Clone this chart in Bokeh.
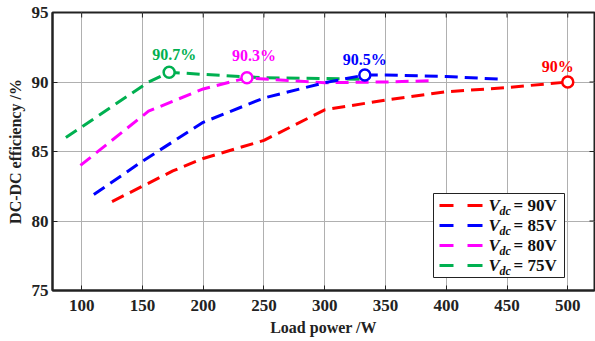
from bokeh.plotting import figure
from bokeh.models import Range1d, FixedTicker
from bokeh.core.properties import value
from bokeh.embed import file_html
from bokeh.resources import INLINE

# ---------------- data ----------------
load_90 = [125, 150, 175, 200, 250, 300, 350, 400, 450, 500]
eff_90 = [81.4, 82.5, 83.6, 84.5, 85.8, 88.0, 88.7, 89.3, 89.6, 90.0]
load_85 = [110, 150, 200, 250, 300, 333, 350, 400, 445]
eff_85 = [81.9, 84.3, 87.1, 88.85, 89.95, 90.5, 90.5, 90.4, 90.2]
load_80 = [99, 155, 200, 236, 300, 350, 390]
eff_80 = [84.0, 87.9, 89.5, 90.3, 89.95, 90.0, 90.1]
load_75 = [87, 155, 172, 200, 250, 300, 332]
eff_75 = [86.0, 90.0, 90.7, 90.55, 90.3, 90.25, 90.2]

peak_load = [500, 333, 236, 172]
peak_eff = [90.0, 90.5, 90.3, 90.7]
peak_labels = ["90%", "90.5%", "90.3%", "90.7%"]
vdc_labels = ["90V", "85V", "80V", "75V"]
colors = ["#FF0000", "#0000FF", "#FF00FF", "#00B050"]

x_ticks = [100, 150, 200, 250, 300, 350, 400, 450, 500]
y_ticks = [75, 80, 85, 90, 95]

# ---------------- layout ----------------
W, H = 595, 341
FL, FR, FT, FB = 52, 594, 12, 290
X_LO, X_HI = 76, 522
Y_LO, Y_HI = 75, 95
SX = (FR - FL) / (X_HI - X_LO)
SY = (FB - FT) / (Y_HI - Y_LO)


def xd(px):
    return X_LO + (px - FL) / SX


def yd(py):
    return Y_HI - (py - FT) / SY


FONT = "Liberation Serif"
DARK = "#222222"

p = figure(width=W, height=H, output_backend="svg", toolbar_location=None,
           x_range=Range1d(X_LO, X_HI), y_range=Range1d(Y_LO, Y_HI),
           min_border_left=FL, min_border_right=W - FR, min_border_top=FT,
           min_border_bottom=H - FB)
p.outline_line_color = DARK
p.outline_line_width = 2
p.background_fill_color = "white"
p.border_fill_color = "white"

for ax in (p.xaxis[0], p.yaxis[0]):
    ax.major_label_text_font = FONT
    ax.major_label_text_font_style = "bold"
    ax.major_label_text_font_size = "17px"
    ax.major_label_text_color = DARK
    ax.axis_label_text_font = FONT
    ax.axis_label_text_font_style = "bold"
    ax.axis_label_text_font_size = "16px"
    ax.axis_label_text_color = DARK
    ax.major_tick_in = 5
    ax.major_tick_out = 0
    ax.minor_tick_in = 0
    ax.minor_tick_out = 0
    ax.axis_line_width = 2
    ax.axis_line_color = DARK
    ax.major_tick_line_color = DARK

p.xaxis[0].ticker = FixedTicker(ticks=x_ticks)
p.yaxis[0].ticker = FixedTicker(ticks=y_ticks)
p.xaxis[0].axis_label = "Load power /W"
p.yaxis[0].axis_label = "DC-DC efficiency /%"
p.xaxis[0].major_label_standoff = 9
p.xaxis[0].axis_label_standoff = 5
p.yaxis[0].major_label_standoff = 4
p.yaxis[0].axis_label_standoff = 5

p.xgrid.ticker = FixedTicker(ticks=x_ticks)
p.ygrid.ticker = FixedTicker(ticks=y_ticks)
p.grid.grid_line_color = "#b0b0b0"
p.grid.grid_line_width = 1

# tick marks on top and right borders
n = len(x_ticks)
p.segment(x_ticks, [Y_HI] * n, x_ticks, [yd(FT + 5)] * n, line_color=DARK, line_width=1)
m = len(y_ticks)
p.segment([X_HI] * m, y_ticks, [xd(FR - 5)] * m, y_ticks, line_color=DARK, line_width=1)

# ---------------- curves ----------------
series = [(load_75, eff_75, colors[3]), (load_80, eff_80, colors[2]),
          (load_85, eff_85, colors[1]), (load_90, eff_90, colors[0])]
for xs, ys, c in series:
    p.line(xs, ys, line_color=c, line_width=3, line_dash="13 7")

p.scatter(peak_load, peak_eff, marker="circle", size=11, line_color=colors,
          line_width=2.5, fill_color="white")

label_dx = [-10, 0, 7, 5]
label_dy = [-16, -16, -22, -18]
for i in range(4):
    p.text([peak_load[i]], [peak_eff[i]], text=[peak_labels[i]], text_color=colors[i],
           text_font=value(FONT), text_font_style="bold", text_font_size="16px",
           text_align="center", text_baseline="middle",
           x_offset=label_dx[i], y_offset=label_dy[i])

# ---------------- legend (manual, for subscripts) ----------------
p.quad(left=[xd(433)], right=[xd(564)], top=[yd(193)], bottom=[yd(277)],
       fill_color="white", line_color=DARK, line_width=1)
row_py = [205, 225, 245, 265]
for i in range(4):
    yy = yd(row_py[i])
    p.segment([xd(439), xd(467)], [yy, yy], [xd(453), xd(482)], [yy, yy],
              line_color=colors[i], line_width=3)
    p.text([xd(488)], [yy], text=["V"], text_font=value(FONT), text_font_style="bold italic",
           text_font_size="17px", text_baseline="middle", y_offset=0,
           text_color="#111111")
    p.text([xd(499)], [yy], text=["dc"], text_font=value(FONT), text_font_style="bold italic",
           text_font_size="12px", text_baseline="middle", y_offset=5,
           text_color="#111111")
    p.text([xd(513)], [yy], text=["= " + vdc_labels[i]], text_font=value(FONT),
           text_font_style="bold", text_font_size="17px", text_baseline="middle",
           y_offset=0, text_color="#111111")

open("out.html", "w").write(file_html(p, INLINE))
